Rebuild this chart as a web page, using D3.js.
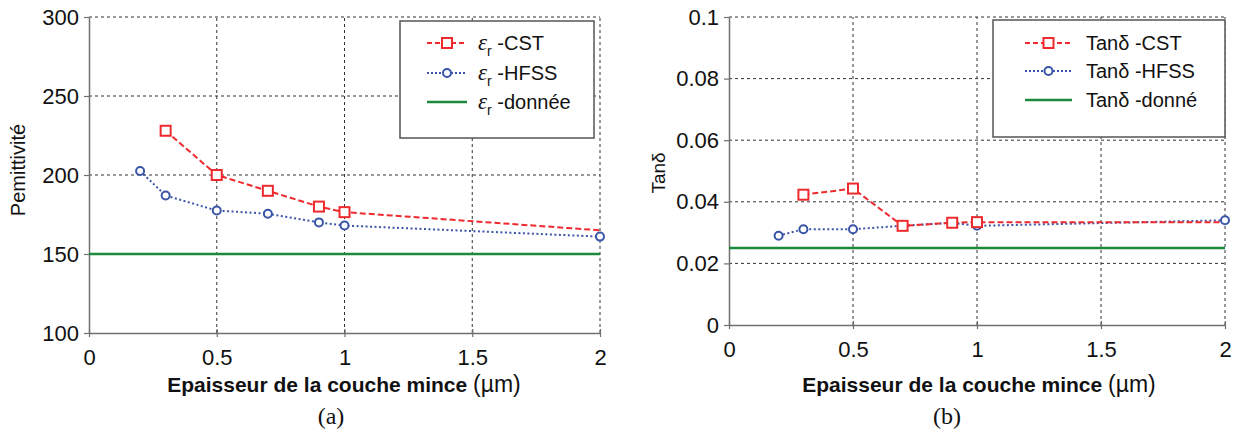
<!DOCTYPE html>
<html><head><meta charset="utf-8">
<script src="https://cdn.jsdelivr.net/npm/d3@7"></script>
<style>
body{margin:0;background:#fff;}
svg{display:block;font-family:"Liberation Sans",Arial,sans-serif;}
</style></head>
<body><svg id="c" width="1238" height="434"></svg>
<script>
// ---- data ----
const xTicks = [0, 0.5, 1, 1.5, 2];
const xTickLabels = ["0", "0.5", "1", "1.5", "2"];
const thicknessCST = [0.3, 0.5, 0.7, 0.9, 1.0, 2.0];
const cstMarked = [true, true, true, true, true, false];
const thicknessHFSS = [0.2, 0.3, 0.5, 0.7, 0.9, 1.0, 2.0];
const givenX = [0, 2];

const permTicks = [100, 150, 200, 250, 300];
const permCST = [228, 200, 190, 180, 176.5, 165];
const permHFSS = [202.5, 187, 177.5, 175.5, 170, 168, 161];
const permGiven = [150, 150];

const tanTicks = [0, 0.02, 0.04, 0.06, 0.08, 0.1];
const tanTickLabels = ["0", "0.02", "0.04", "0.06", "0.08", "0.1"];
const tanCST = [0.0423, 0.0443, 0.0322, 0.0332, 0.0334, 0.0334];
const tanHFSS = [0.029, 0.0311, 0.0311, 0.0322, 0.0332, 0.0322, 0.034];
const tanGiven = [0.025, 0.025];

const RED = "#ee2a2e", BLUE = "#3a55a8", GREEN = "#1b8a3d";
const svg = d3.select("#c");

function panel(o) {
  const x = d3.scaleLinear().domain([0, 2]).range([o.x0, o.x1]);
  const y = d3.scaleLinear().domain(o.yDomain).range([o.y0, o.y1]);
  const g = svg.append("g");
  // grid
  const grid = g.append("g").attr("stroke", "#333").attr("stroke-width", 1).attr("stroke-dasharray", "3,3");
  o.yTicks.slice(1).forEach(v => grid.append("line")
    .attr("x1", x(0)).attr("x2", x(2)).attr("y1", y(v)).attr("y2", y(v)));
  xTicks.slice(1).forEach(v => grid.append("line")
    .attr("x1", x(v)).attr("x2", x(v)).attr("y1", y(o.yDomain[0])).attr("y2", y(o.yDomain[1])));
  // axes
  const ay = g.append("g").attr("transform", `translate(${x(0)},0)`)
    .call(d3.axisLeft(y).tickValues(o.yTicks).tickFormat((d, i) => o.yLabels[i]).tickSizeInner(5).tickSizeOuter(0).tickPadding(5));
  const ax = g.append("g").attr("transform", `translate(0,${y(o.yDomain[0])})`)
    .call(d3.axisBottom(x).tickValues(xTicks).tickFormat((d, i) => xTickLabels[i]).tickSizeInner(4).tickSizeOuter(0).tickPadding(12));
  [ax, ay].forEach(a => {
    a.select(".domain").attr("stroke", "#707070").attr("stroke-width", 1.5);
    a.selectAll(".tick line").attr("stroke", "#707070").attr("stroke-width", 1.2);
    a.selectAll("text").attr("font-size", 22).attr("fill", "#111").attr("font-family", "Liberation Sans, Arial, sans-serif");
  });
  ax.selectAll(".tick line").attr("y1", -4);
  // given line
  const line = d3.line().x(d => x(d[0])).y(d => y(d[1]));
  g.append("path").attr("d", line(d3.zip(givenX, o.given))).attr("fill", "none")
    .attr("stroke", GREEN).attr("stroke-width", 2.5);
  // HFSS
  g.append("path").attr("d", line(d3.zip(thicknessHFSS, o.hfss))).attr("fill", "none")
    .attr("stroke", BLUE).attr("stroke-width", 2).attr("stroke-dasharray", "2,2.5");
  // CST
  g.append("path").attr("d", line(d3.zip(thicknessCST, o.cst))).attr("fill", "none")
    .attr("stroke", RED).attr("stroke-width", 2).attr("stroke-dasharray", "6,3");
  g.selectAll(".c").data(d3.zip(thicknessHFSS, o.hfss)).join("circle")
    .attr("cx", d => x(d[0])).attr("cy", d => y(d[1])).attr("r", 4)
    .attr("fill", "#fff").attr("stroke", BLUE).attr("stroke-width", 2);
  g.selectAll(".s").data(d3.zip(thicknessCST, o.cst).filter((d, i) => cstMarked[i])).join("rect")
    .attr("x", d => x(d[0]) - 5).attr("y", d => y(d[1]) - 5).attr("width", 10).attr("height", 10)
    .attr("fill", "#fff").attr("stroke", RED).attr("stroke-width", 2);
  // legend
  const L = o.legend;
  g.append("rect").attr("x", L.x).attr("y", L.y).attr("width", L.w).attr("height", L.h)
    .attr("fill", "#fff").attr("stroke", "#555").attr("stroke-width", 1.5);
  const rows = [
    {c: RED, dash: "5,3", m: "sq", t: "-CST"},
    {c: BLUE, dash: "2,2", m: "ci", t: "-HFSS"},
    {c: GREEN, dash: null, m: null, t: o.givenWord}
  ];
  rows.forEach((r, i) => {
    const yy = L.rowY[i];
    const ln = g.append("line").attr("x1", L.lx0).attr("x2", L.lx1).attr("y1", yy).attr("y2", yy)
      .attr("stroke", r.c).attr("stroke-width", r.m ? 2 : 2.5);
    if (r.dash) ln.attr("stroke-dasharray", r.dash);
    const mx = (L.lx0 + L.lx1) / 2;
    if (r.m === "sq") g.append("rect").attr("x", mx - 5).attr("y", yy - 5).attr("width", 10).attr("height", 10)
      .attr("fill", "#fff").attr("stroke", r.c).attr("stroke-width", 2);
    if (r.m === "ci") g.append("circle").attr("cx", mx).attr("cy", yy).attr("r", 4)
      .attr("fill", "#fff").attr("stroke", r.c).attr("stroke-width", 2);
    const t = g.append("text").attr("x", L.tx).attr("y", yy + 7).attr("font-size", 20).attr("fill", "#111");
    o.symbol(t);
    t.append("tspan").text(r.t);
  });
  // axis titles
  const xt = g.append("text").attr("x", o.xTitleX).attr("y", 392).attr("text-anchor", "middle")
    .attr("font-size", 21).attr("fill", "#111");
  xt.append("tspan").attr("font-weight", "bold").text("Epaisseur de la couche mince ");
  xt.append("tspan").attr("font-size", 23).text("(µm)");
  g.append("text").attr("transform", `translate(${o.yTitle[0]},${o.yTitle[1]}) rotate(-90)`)
    .attr("text-anchor", "middle").attr("font-size", o.yTitleSize).attr("fill", "#111").text(o.yTitleText);
  g.append("text").attr("x", o.capX).attr("y", 424).attr("text-anchor", "middle")
    .attr("font-family", "Liberation Serif, Times New Roman, serif").attr("font-size", 24).attr("fill", "#111").text(o.caption);
}

panel({
  x0: 89, x1: 600, y0: 333, y1: 17, yDomain: [100, 300],
  yTicks: permTicks, yLabels: permTicks.map(String),
  cst: permCST, hfss: permHFSS, given: permGiven,
  legend: {x: 400, y: 21, w: 194, h: 117, rowY: [43, 73, 102], lx0: 427, lx1: 467, tx: 478},
  givenWord: "-donnée",
  symbol: t => {
    t.append("tspan").attr("font-family", "Liberation Serif, serif").attr("font-style", "italic").attr("font-size", 23).text("ε");
    t.append("tspan").attr("font-size", 14).attr("dy", 6).text("r");
    t.append("tspan").attr("dy", -6).text(" ");
  },
  xTitleX: 344, yTitle: [25, 170], yTitleText: "Pemittivité", yTitleSize: 20, capX: 331, caption: "(a)"
});

panel({
  x0: 729, x1: 1225, y0: 325, y1: 17, yDomain: [0, 0.1],
  yTicks: tanTicks, yLabels: tanTickLabels,
  cst: tanCST, hfss: tanHFSS, given: tanGiven,
  legend: {x: 993, y: 20, w: 232, h: 117, rowY: [43, 71, 100], lx0: 1025, lx1: 1072, tx: 1086},
  givenWord: "-donné",
  symbol: t => { t.append("tspan").text("Tanδ "); },
  xTitleX: 979, yTitle: [665, 173], yTitleText: "Tanδ", yTitleSize: 19, capX: 947, caption: "(b)"
});
</script></body></html>
